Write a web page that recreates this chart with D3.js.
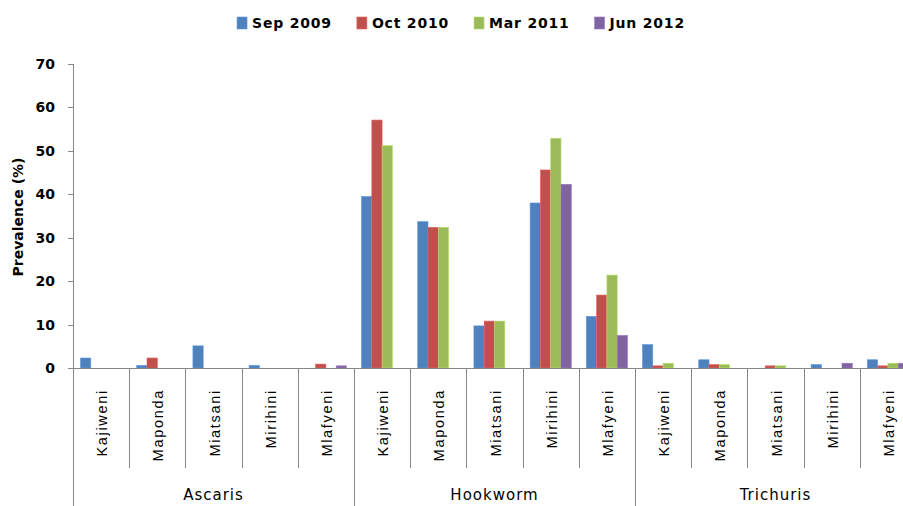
<!DOCTYPE html>
<html>
<head>
<meta charset="utf-8">
<title>Prevalence</title>
<script src="https://cdnjs.cloudflare.com/ajax/libs/d3/7.8.5/d3.min.js"></script>
<style>
  body { margin: 0; background: #fff; }
  svg { display: block; }
  .axis path, .axis line { stroke: #888; shape-rendering: crispEdges; }
</style>
</head>
<body>
<div id="chart"></div>
<script>
  // data
  var groups = ["Ascaris", "Hookworm", "Trichuris"];
  var villages = ["Kajiweni", "Maponda", "Miatsani", "Mirihini", "Mlafyeni"];
  var seriesNames = ["Sep 2009", "Oct 2010", "Mar 2011", "Jun 2012"];
  var seriesColors = ["#4F81BD", "#C0504D", "#9BBB59", "#8064A2"];
  var yTicks = [0, 10, 20, 30, 40, 50, 60, 70];

  // values per series, in order Ascaris x5, Hookworm x5, Trichuris x5
  var sep2009 = [2.3, 0.6, 5.1, 0.6, 0,   39.5, 33.7, 9.7, 38.0, 11.9,  5.4, 1.9, 0,   0.8, 1.9];
  var oct2010 = [0,   2.3, 0,   0,   0.9, 57.1, 32.4, 10.8, 45.6, 16.8, 0.5, 0.8, 0.5, 0,   0.5];
  var mar2011 = [0,   0,   0,   0,   0,   51.2, 32.4, 10.8, 52.9, 21.4, 1.1, 0.8, 0.5, 0,   1.1];
  var jun2012 = [0,   0,   0,   0,   0.5, 0,    0,    0,    42.3, 7.5,  0,   0,   0,   1.1, 1.1];
  var seriesValues = [sep2009, oct2010, mar2011, jun2012];

  var width = 903, height = 506;
  var plotLeft = 73, plotRight = 916, plotTop = 64, base = 368;

  var cats = [];
  groups.forEach(function(g) {
    villages.forEach(function(v) { cats.push(g + "|" + v); });
  });

  var svg = d3.select("#chart").append("svg")
    .attr("width", width).attr("height", height);

  var x0 = d3.scaleBand().domain(cats).range([plotLeft, plotRight]).padding(0);
  var x1 = d3.scaleBand().domain(seriesNames).range([0, x0.bandwidth()])
    .paddingInner(0).paddingOuter(0.73);
  var y = d3.scaleLinear().domain([0, 70]).range([base, plotTop]);

  // bars
  seriesNames.forEach(function(s, i) {
    svg.append("g").selectAll("rect")
      .data(seriesValues[i])
      .enter().append("rect")
      .attr("x", function(d, j) { return x0(cats[j]) + x1(s); })
      .attr("y", function(d) { return y(d); })
      .attr("width", x1.bandwidth())
      .attr("height", function(d) { return base - y(d); })
      .attr("fill", seriesColors[i])
      .attr("stroke", d3.color(seriesColors[i]).brighter(0.5))
      .attr("stroke-width", 0.6);
  });

  // y axis
  var yAxis = svg.append("g")
    .attr("class", "axis")
    .attr("transform", "translate(" + plotLeft + ",0)")
    .call(d3.axisLeft(y).tickValues(yTicks).tickSize(5).tickSizeOuter(0).tickPadding(13));
  yAxis.select(".domain").remove();
  yAxis.selectAll("text")
    .attr("font-family", "DejaVu Sans")
    .attr("font-weight", "bold")
    .attr("font-size", "14px")
    .attr("fill", "#000");

  // axis lines
  svg.append("line")
    .attr("x1", plotLeft + 0.5).attr("x2", plotLeft + 0.5)
    .attr("y1", plotTop).attr("y2", height)
    .attr("stroke", "#888");
  svg.append("line")
    .attr("x1", plotLeft).attr("x2", plotRight)
    .attr("y1", base + 0.5).attr("y2", base + 0.5)
    .attr("stroke", "#888");

  // category dividers
  cats.forEach(function(c, j) {
    if (j == 0) return;
    var xx = Math.round(x0(c)) + 0.5;
    svg.append("line")
      .attr("x1", xx).attr("x2", xx)
      .attr("y1", base)
      .attr("y2", (j % villages.length == 0) ? height : 468)
      .attr("stroke", "#888");
  });

  // village labels
  svg.append("g").selectAll("text")
    .data(cats)
    .enter().append("text")
    .attr("transform", function(c) {
      return "translate(" + (x0(c) + x0.bandwidth() / 2 + 6) + "," + 389 + ") rotate(-90)";
    })
    .attr("text-anchor", "end")
    .attr("font-family", "Liberation Sans, Arial, sans-serif")
    .attr("font-size", "14.5px")
    .attr("letter-spacing", "1.7px")
    .attr("fill", "#000")
    .text(function(c) { return c.split("|")[1]; });

  // group labels
  groups.forEach(function(g) {
    var a = x0(g + "|" + villages[0]);
    svg.append("text")
      .attr("x", a + x0.bandwidth() * villages.length / 2)
      .attr("y", 500)
      .attr("text-anchor", "middle")
      .attr("font-family", "DejaVu Sans")
      .attr("font-size", "15px")
      .attr("letter-spacing", "1px")
      .attr("fill", "#000")
      .text(g);
  });

  // y label
  svg.append("text")
    .attr("transform", "translate(23,217) rotate(-90)")
    .attr("text-anchor", "middle")
    .attr("font-family", "DejaVu Sans")
    .attr("font-weight", "bold")
    .attr("font-size", "14px")
    .attr("fill", "#000")
    .text("Prevalence (%)");

  // legend
  var legend = svg.append("g");
  var lx = 0;
  seriesNames.forEach(function(s, i) {
    var item = legend.append("g").attr("transform", "translate(" + lx + ",0)");
    item.append("rect")
      .attr("x", 0).attr("y", 17)
      .attr("width", 10).attr("height", 12)
      .attr("fill", seriesColors[i])
      .attr("stroke", d3.color(seriesColors[i]).brighter(0.5))
      .attr("stroke-width", 0.6);
    var t = item.append("text")
      .attr("x", 15).attr("y", 28)
      .attr("font-family", "DejaVu Sans")
      .attr("font-weight", "bold")
      .attr("font-size", "14px")
      .attr("letter-spacing", "0.8px")
      .attr("fill", "#000")
      .text(s);
    lx += 15 + t.node().getComputedTextLength() + 25;
  });
  var lw = lx - 25;
  legend.attr("transform", "translate(" + (461 - lw / 2) + ",0)");
</script>
</body>
</html>
